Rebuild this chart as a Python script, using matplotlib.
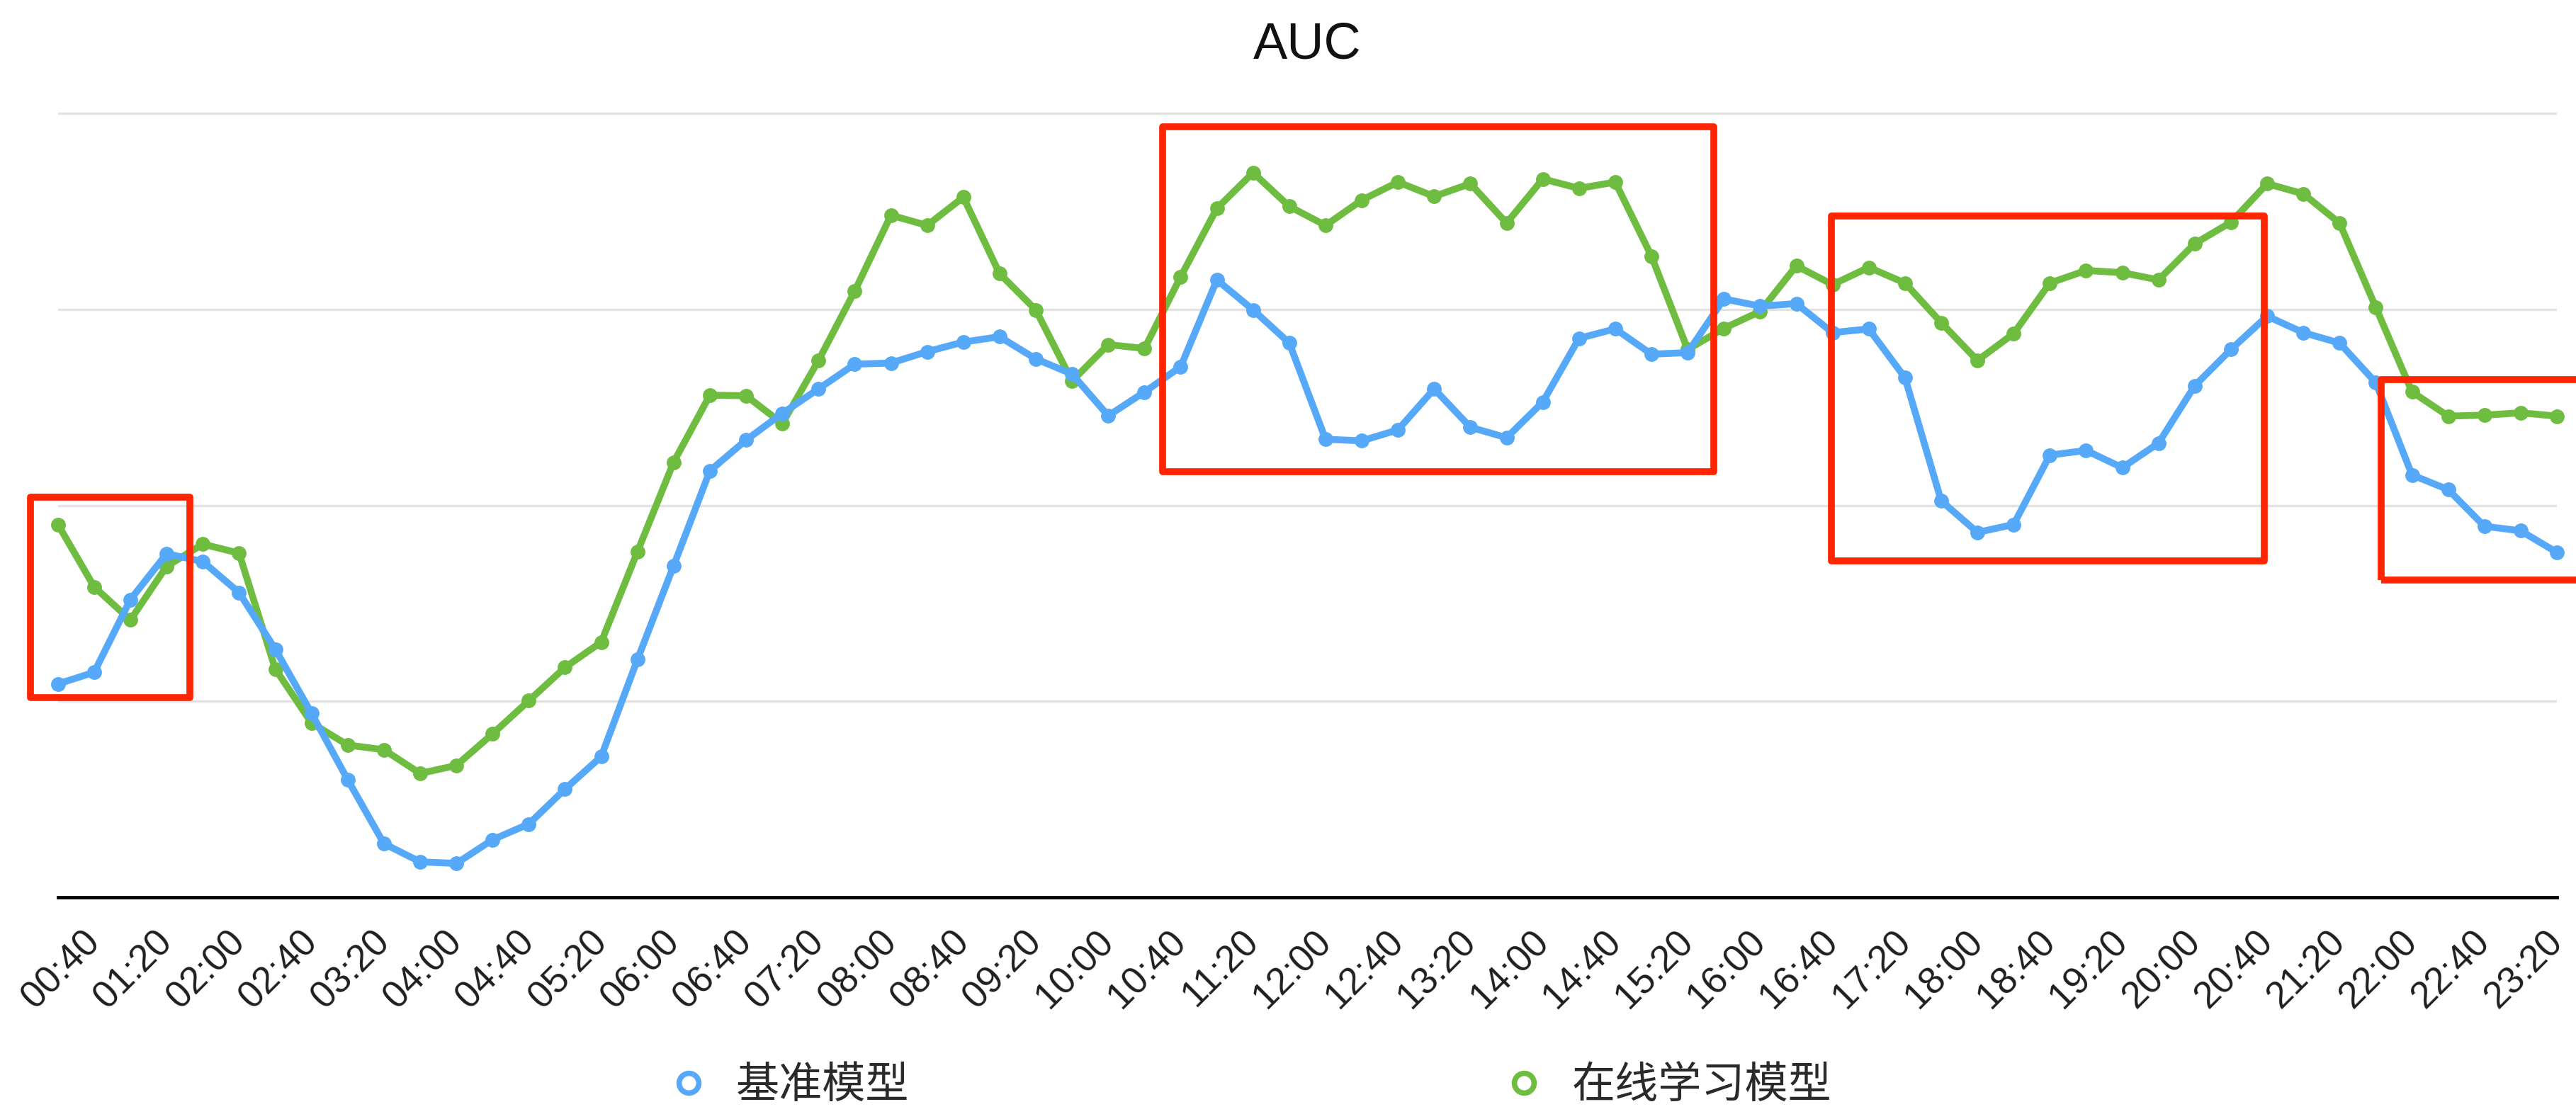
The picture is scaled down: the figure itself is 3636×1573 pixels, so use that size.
"""
AUC over the day: baseline model vs online-learning model
Output: out.png
"""

import matplotlib
matplotlib.use('Agg')
import matplotlib.pyplot as plt
from matplotlib.lines import Line2D
from matplotlib.patches import Rectangle
import numpy as np

plt.rcParams['font.family'] = ['Liberation Sans', 'Noto Sans CJK SC', 'DejaVu Sans']

# one point every 20 minutes, 00:20 .. 23:20 (values in gridline units, no y labels in source)
TICK_LABELS = ['00:40', '01:20', '02:00', '02:40', '03:20', '04:00', '04:40', '05:20',
               '06:00', '06:40', '07:20', '08:00', '08:40', '09:20', '10:00', '10:40',
               '11:20', '12:00', '12:40', '13:20', '14:00', '14:40', '15:20', '16:00',
               '16:40', '17:20', '18:00', '18:40', '19:20', '20:00', '20:40', '21:20',
               '22:00', '22:40', '23:20']

baseline_auc = [1.089, 1.148, 1.519, 1.753, 1.713, 1.555, 1.266, 0.939, 0.600, 0.274,
                0.181, 0.173, 0.294, 0.374, 0.552, 0.718, 1.213, 1.692, 2.176, 2.333,
                2.469, 2.594, 2.720, 2.726, 2.784, 2.833, 2.860, 2.747, 2.670, 2.457,
                2.578, 2.707, 3.150, 2.997, 2.828, 2.337, 2.329, 2.385, 2.594, 2.398,
                2.345, 2.527, 2.852, 2.900, 2.771, 2.779, 3.053, 3.016, 3.029, 2.881,
                2.900, 2.651, 2.023, 1.862, 1.902, 2.256, 2.280, 2.192, 2.317, 2.610,
                2.795, 2.965, 2.881, 2.828, 2.626, 2.155, 2.080, 1.893, 1.870, 1.760]

online_auc = [1.902, 1.584, 1.415, 1.689, 1.802, 1.756, 1.165, 0.890, 0.777, 0.753,
              0.632, 0.673, 0.834, 1.003, 1.173, 1.302, 1.763, 2.220, 2.562, 2.559,
              2.417, 2.739, 3.093, 3.480, 3.428, 3.572, 3.182, 2.997, 2.634, 2.820,
              2.800, 3.166, 3.515, 3.697, 3.525, 3.428, 3.557, 3.649, 3.576, 3.641,
              3.440, 3.665, 3.617, 3.649, 3.271, 2.795, 2.903, 2.989, 3.222, 3.126,
              3.214, 3.134, 2.932, 2.739, 2.876, 3.134, 3.198, 3.187, 3.150, 3.335,
              3.444, 3.641, 3.589, 3.440, 3.010, 2.579, 2.455, 2.460, 2.472, 2.455]

SERIES_NAMES = ['基准模型', '在线学习模型']

BLUE = '#55A9F8'
GREEN = '#6FBD40'
RED = '#FF2500'


def create_chart():
    fig = plt.figure(figsize=(36.37, 15.73), dpi=100)
    ax = fig.add_axes([0.0225, 0.1945, 0.9698, 0.7214])

    x = np.arange(len(baseline_auc))

    ax.plot(x, online_auc, '-o', color=GREEN, lw=7, ms=14, clip_on=False, zorder=3)
    ax.plot(x, baseline_auc, '-o', color=BLUE, lw=7, ms=14, clip_on=False, zorder=4)

    ax.set_xlim(0, len(x) - 1)
    ax.set_ylim(0, 4.1)

    ax.set_yticks([1, 2, 3, 4])
    ax.set_yticklabels([])
    ax.yaxis.grid(True, color='#E2E2E2', lw=2.4)
    ax.set_axisbelow(True)

    ax.set_xticks(x[1::2])
    ax.set_xticklabels(TICK_LABELS, rotation=45, ha='right', va='center',
                       rotation_mode='anchor', fontsize=38, color='#1E1E1E')
    ax.tick_params(axis='both', length=0)
    ax.tick_params(axis='x', pad=40)

    for side in ['left', 'right', 'top']:
        ax.spines[side].set_visible(False)
    ax.spines['bottom'].set_color('black')
    ax.spines['bottom'].set_linewidth(3.4)

    ax.set_title('AUC', fontsize=52, pad=36, color='#111111')

    # red boxes marking where the online model pulls ahead
    boxes = [(-0.75, 1.02, 4.39, 1.02),
             (30.5, 2.173, 15.22, 1.757),
             (48.96, 1.716, 11.97, 1.759),
             (64.15, 1.619, 6.5, 1.022)]
    for bx, by, bw, bh in boxes:
        ax.add_patch(Rectangle((bx, by), bw, bh, fill=False, edgecolor=RED, lw=7,
                               joinstyle='round', clip_on=False, zorder=6))

    handles = [Line2D([], [], ls='none', marker='o', ms=20, mfc='white', mec=BLUE, mew=5.5),
               Line2D([], [], ls='none', marker='o', ms=20, mfc='white', mec=GREEN, mew=5.5)]
    leg = fig.legend(handles, SERIES_NAMES, loc='center', bbox_to_anchor=(0.4856, 0.0254),
                     ncol=2, frameon=False, borderpad=0, handlelength=0.8,
                     handletextpad=0.7, columnspacing=13.8,
                     prop={'family': ['Noto Sans CJK SC'], 'size': 44})
    for t in leg.get_texts():
        t.set_color('#2A2A2A')

    fig.savefig('out.png', dpi=100, facecolor='white')
    plt.close(fig)


if __name__ == '__main__':
    create_chart()
